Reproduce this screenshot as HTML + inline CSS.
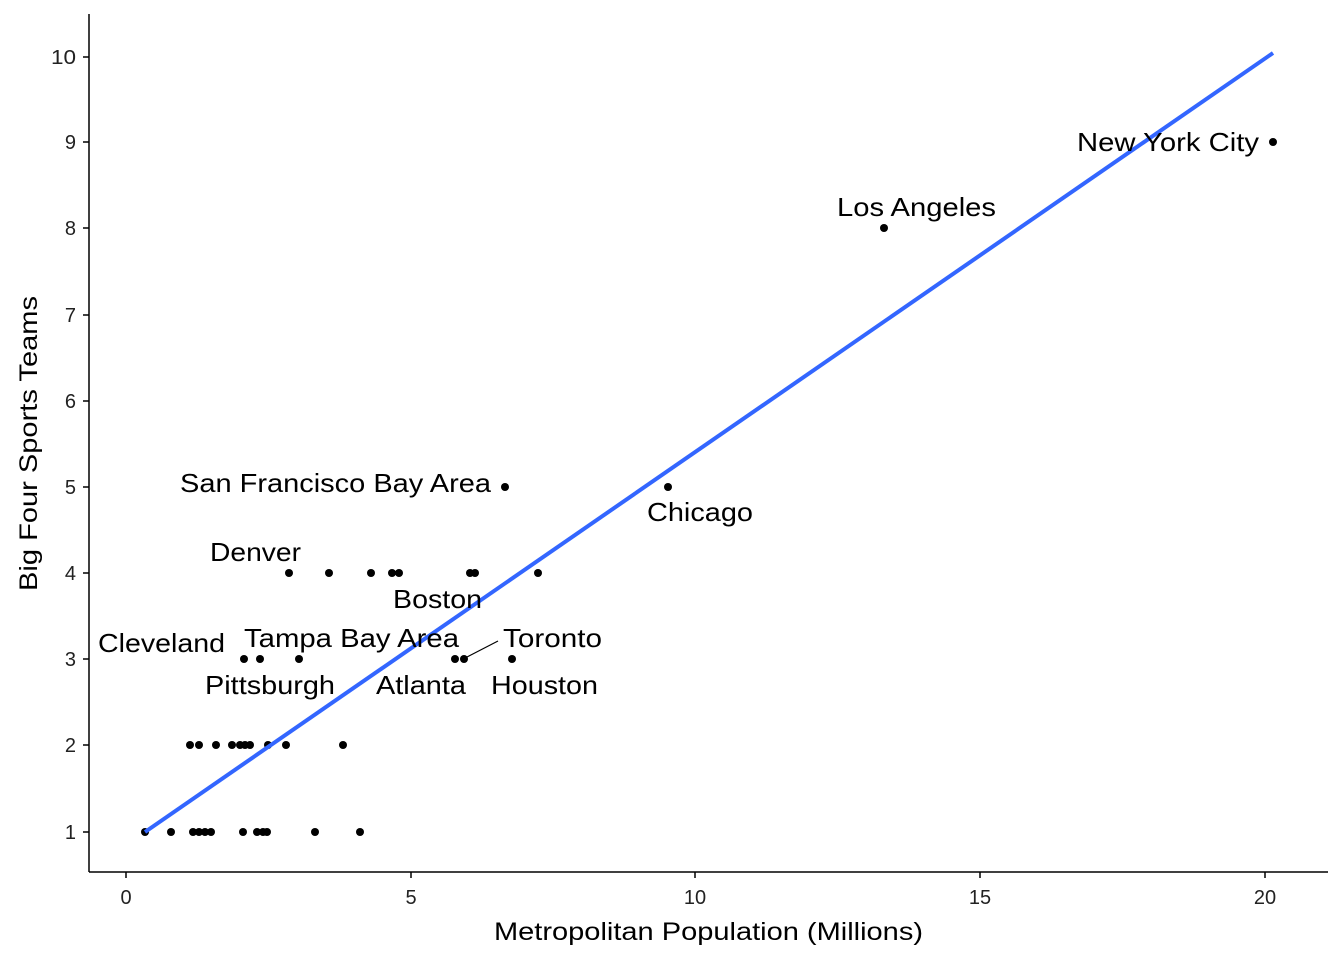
<!DOCTYPE html>
<html><head><style>body{margin:0;background:#fff}</style></head><body>
<svg width="1344" height="960" xmlns="http://www.w3.org/2000/svg" font-family="Liberation Sans, Arial, sans-serif">
<rect width="1344" height="960" fill="#fff"/>
<g stroke="#000" stroke-width="1.5" fill="none">
<line x1="89" y1="14" x2="89" y2="872"/>
<line x1="89" y1="872" x2="1328" y2="872"/>
<line x1="83" y1="832" x2="89" y2="832"/><line x1="83" y1="745" x2="89" y2="745"/>
<line x1="83" y1="659" x2="89" y2="659"/><line x1="83" y1="573" x2="89" y2="573"/>
<line x1="83" y1="487" x2="89" y2="487"/><line x1="83" y1="401" x2="89" y2="401"/>
<line x1="83" y1="315" x2="89" y2="315"/><line x1="83" y1="228" x2="89" y2="228"/>
<line x1="83" y1="142" x2="89" y2="142"/><line x1="83" y1="57" x2="89" y2="57"/>
<line x1="126" y1="872" x2="126" y2="878"/><line x1="411" y1="872" x2="411" y2="878"/>
<line x1="695" y1="872" x2="695" y2="878"/><line x1="980" y1="872" x2="980" y2="878"/>
<line x1="1265" y1="872" x2="1265" y2="878"/>
</g>
<g font-size="20" fill="#222" text-anchor="end">
<text x="76" y="839">1</text><text x="76" y="752">2</text><text x="76" y="666">3</text>
<text x="76" y="580">4</text><text x="76" y="494">5</text><text x="76" y="408">6</text>
<text x="76" y="322">7</text><text x="76" y="235">8</text><text x="76" y="149">9</text>
<text x="76" y="64" textLength="25" lengthAdjust="spacingAndGlyphs">10</text>
</g>
<g font-size="20" fill="#222" text-anchor="middle">
<text x="126" y="904">0</text><text x="411" y="904">5</text><text x="695" y="904">10</text>
<text x="980" y="904">15</text><text x="1265" y="904">20</text>
</g>
<g lengthAdjust="spacingAndGlyphs">
<text x="494" y="940" font-size="25" textLength="429" lengthAdjust="spacingAndGlyphs">Metropolitan Population (Millions)</text>
<text transform="translate(37,591) rotate(-90)" font-size="25" textLength="295" lengthAdjust="spacingAndGlyphs">Big Four Sports Teams</text>
</g>
<g fill="#000">
<circle cx="145" cy="832" r="4"/><circle cx="171" cy="832" r="4"/><circle cx="193" cy="832" r="4"/><circle cx="199" cy="832" r="4"/><circle cx="205" cy="832" r="4"/><circle cx="211" cy="832" r="4"/><circle cx="243" cy="832" r="4"/><circle cx="257" cy="832" r="4"/><circle cx="263" cy="832" r="4"/><circle cx="267" cy="832" r="4"/><circle cx="315" cy="832" r="4"/><circle cx="360" cy="832" r="4"/>
<circle cx="190" cy="745" r="4"/><circle cx="199" cy="745" r="4"/><circle cx="216" cy="745" r="4"/><circle cx="232" cy="745" r="4"/><circle cx="240" cy="745" r="4"/><circle cx="245" cy="745" r="4"/><circle cx="250" cy="745" r="4"/><circle cx="268" cy="745" r="4"/><circle cx="286" cy="745" r="4"/><circle cx="343" cy="745" r="4"/>
<circle cx="244" cy="659" r="4"/><circle cx="260" cy="659" r="4"/><circle cx="299" cy="659" r="4"/><circle cx="455" cy="659" r="4"/><circle cx="464" cy="659" r="4"/><circle cx="512" cy="659" r="4"/>
<circle cx="289" cy="573" r="4"/><circle cx="329" cy="573" r="4"/><circle cx="371" cy="573" r="4"/><circle cx="392" cy="573" r="4"/><circle cx="399" cy="573" r="4"/><circle cx="470" cy="573" r="4"/><circle cx="475" cy="573" r="4"/><circle cx="538" cy="573" r="4"/>
<circle cx="505" cy="487" r="4"/><circle cx="668" cy="487" r="4"/>
<circle cx="884" cy="228" r="4"/><circle cx="1273" cy="142" r="4"/>
</g>
<line x1="145" y1="832" x2="1273" y2="53" stroke="#3366FF" stroke-width="4"/>
<line x1="467" y1="657" x2="498" y2="641" stroke="#000" stroke-width="1.2"/>
<g font-size="26" fill="#000">
<text x="1077" y="151" textLength="182" lengthAdjust="spacingAndGlyphs">New York City</text>
<text x="837" y="216" textLength="159" lengthAdjust="spacingAndGlyphs">Los Angeles</text>
<text x="180" y="492" textLength="311" lengthAdjust="spacingAndGlyphs">San Francisco Bay Area</text>
<text x="647" y="521" textLength="106" lengthAdjust="spacingAndGlyphs">Chicago</text>
<text x="210" y="561" textLength="91" lengthAdjust="spacingAndGlyphs">Denver</text>
<text x="393" y="608" textLength="89" lengthAdjust="spacingAndGlyphs">Boston</text>
<text x="98" y="652" textLength="127" lengthAdjust="spacingAndGlyphs">Cleveland</text>
<text x="244" y="647" textLength="215" lengthAdjust="spacingAndGlyphs">Tampa Bay Area</text>
<text x="503" y="647" textLength="99" lengthAdjust="spacingAndGlyphs">Toronto</text>
<text x="205" y="694" textLength="130" lengthAdjust="spacingAndGlyphs">Pittsburgh</text>
<text x="376" y="694" textLength="90" lengthAdjust="spacingAndGlyphs">Atlanta</text>
<text x="491" y="694" textLength="107" lengthAdjust="spacingAndGlyphs">Houston</text>
</g>
</svg>
</body></html>
